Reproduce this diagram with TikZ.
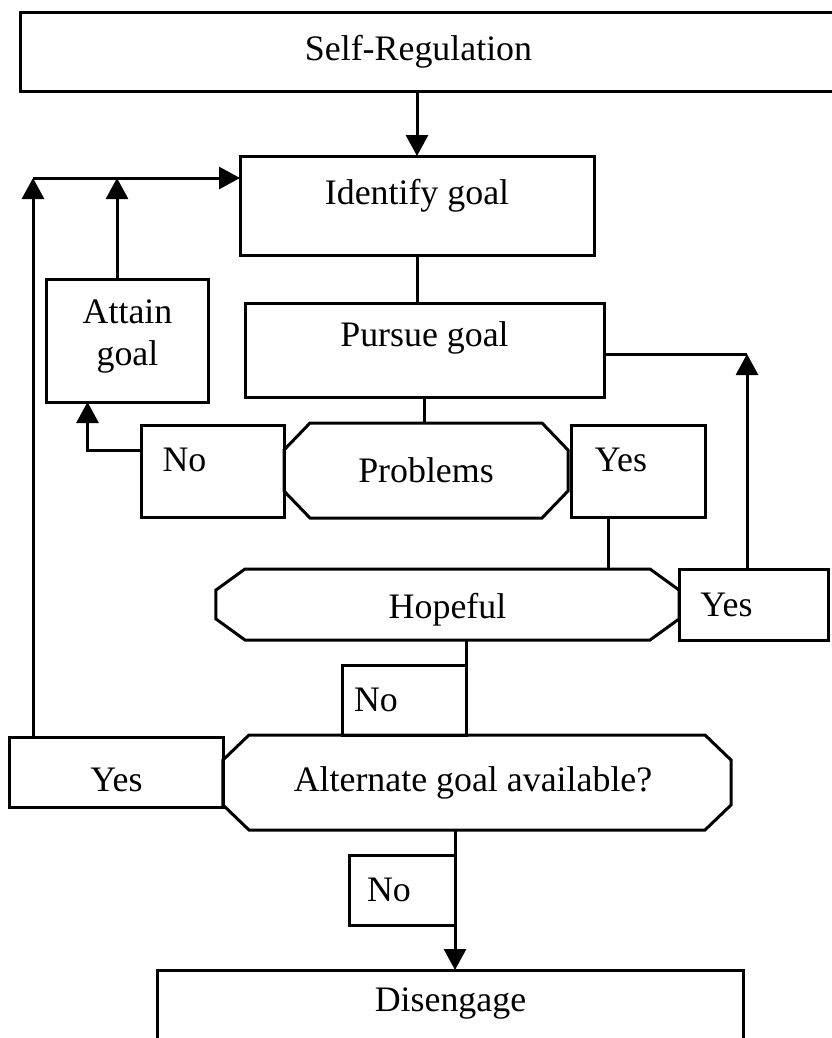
\documentclass[tikz,border=0pt]{standalone}
\usepackage{fontspec}
\setmainfont{Liberation Serif}
\usetikzlibrary{arrows.meta}

\tikzset{
  box/.style={draw, rectangle, outer sep=0pt, inner sep=0pt},
  decision/.style={rectangle, outer sep=0pt, inner sep=0pt},
}
% cut-corner outline round a decision node: name, x cut, y cut
\newcommand{\cutbox}[3]{%
  \draw ([xshift=#2]#1.north west) -- ([xshift=-#2]#1.north east)
    -- ([yshift=-#3]#1.north east) -- ([yshift=#3]#1.south east)
    -- ([xshift=-#2]#1.south east) -- ([xshift=#2]#1.south west)
    -- ([yshift=#3]#1.south west) -- ([yshift=-#3]#1.north west) -- cycle;}

\begin{document}
\begin{tikzpicture}[x=1bp, y=-1bp, line width=3bp, line join=miter,
  >={Triangle[length=21bp,width=22bp]},
  font=\fontsize{36}{42}\selectfont]
\useasboundingbox (0,0) rectangle (832,1038);
%% boxes
\node[box, minimum width=819bp, minimum height=79bp,
  label={[xshift=-12bp]center:Self-Regulation}] (selfreg) at (430.5,51.5) {};
\node[box, minimum width=354bp, minimum height=99bp,
  label={[yshift=10bp]center:Identify goal}] (identify) at (417,205.5) {};
\node[box, minimum width=161bp, minimum height=123bp,
  label={[align=center,yshift=4bp]center:Attain\\goal}] (attain) at (127.5,340.5) {};
\node[box, minimum width=359bp, minimum height=94bp,
  label={[yshift=12bp]center:Pursue goal}] (pursue) at (424.5,350) {};
\node[box, minimum width=143bp, minimum height=92bp,
  label={[xshift=-28bp,yshift=11bp]center:No}] (noA) at (212.5,471) {};
\node[decision, minimum width=284bp, minimum height=95bp] (problems) at (426,470.5) {Problems};
\node[box, minimum width=134bp, minimum height=92bp,
  label={[xshift=-17bp,yshift=11bp]center:Yes}] (yesA) at (638,471) {};
\node[decision, minimum width=463bp, minimum height=71bp,
  label={[yshift=-5bp]center:Hopeful}] (hopeful) at (447.5,604.5) {};
\node[box, minimum width=149bp, minimum height=71bp,
  label={[xshift=-27bp]center:Yes}] (yesB) at (753.5,604.5) {};
\node[box, minimum width=124bp, minimum height=70bp,
  label={[xshift=-28bp]center:No}] (noB) at (404,700) {};
\node[box, minimum width=213bp, minimum height=70bp,
  label={[yshift=-8bp]center:Yes}] (yesC) at (116.5,772) {};
\node[decision, minimum width=508bp, minimum height=95bp,
  label={[xshift=-4bp]center:Alternate goal available?}] (alternate) at (477,782.5) {};
\node[box, minimum width=106bp, minimum height=70bp,
  label={[xshift=-13bp]center:No}] (noC) at (402,890) {};
\node[box, minimum width=585bp, minimum height=90bp,
  label={[yshift=12bp]center:Disengage}] (disengage) at (450.5,1015) {};
\cutbox{problems}{26bp}{27bp}
\cutbox{hopeful}{29bp}{21bp}
\cutbox{alternate}{26bp}{25bp}
%% connectors
\coordinate (loopL) at (33,178);
\coordinate (pursueR) at (747,354);
\coordinate (yesAfoot) at (608,517);
\coordinate (attainTop) at (117,279);
\draw[->] (identify.north |- selfreg.south) -- (identify.north);
\draw (identify.south) -- (identify.south |- pursue.north);
\draw (pursue.south) -- (pursue.south |- problems.north);
\draw[->] (loopL |- yesC.north) -- (loopL);
\draw[->] (loopL) -- (loopL -| identify.west);
\draw[->] (attainTop) -- (attainTop |- loopL);
\draw[->] ([yshift=21bp]noA.west) -| ([xshift=-40bp]attain.south);
\draw (yesAfoot) -- (yesAfoot |- hopeful.north);
\draw[->] (yesB.north -| pursueR) -- (pursueR);
\draw (pursueR) -- (pursueR -| pursue.east);
\draw (noB.north east |- hopeful.south) -- (noB.north east);
\draw[->] (noC.north east |- alternate.south) -- (noC.north east |- disengage.north);
\end{tikzpicture}
\end{document}
